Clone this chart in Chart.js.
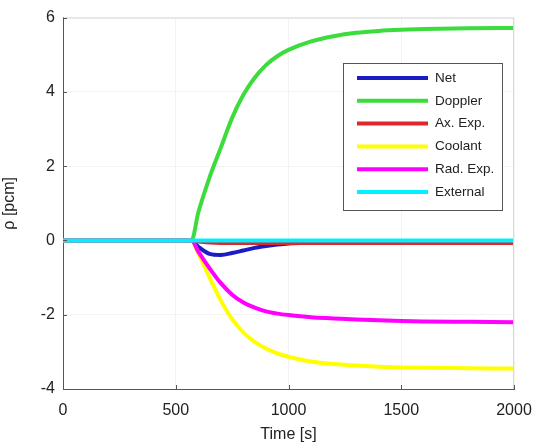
<!DOCTYPE html>
<html>
<head>
<meta charset="utf-8">
<script src="https://cdn.jsdelivr.net/npm/chart.js@4/dist/chart.umd.min.js"></script>
<style>
  html, body { margin: 0; padding: 0; background: #fff; }
  #wrap { width: 540px; height: 446px; }
</style>
</head>
<body>
<div id="wrap"><canvas id="rhoChart" width="540" height="446"></canvas></div>
<script>
// time samples [s] and reactivity [pcm]
const times    = [0, 500, 570, 600, 650, 700, 750, 800, 850, 900, 950, 1000, 1100, 1200, 1300, 1400, 1500, 1600, 1800, 2000];
const net      = [0, 0, 0, -0.17, -0.36, -0.39, -0.34, -0.27, -0.20, -0.15, -0.11, -0.08, -0.06, -0.05, -0.05, -0.05, -0.05, -0.05, -0.05, -0.05];
const doppler  = [0, 0, 0, 0.75, 1.70, 2.50, 3.30, 3.92, 4.38, 4.72, 4.96, 5.13, 5.36, 5.50, 5.59, 5.64, 5.67, 5.69, 5.71, 5.72];
const axExp    = [0, 0, 0, -0.04, -0.07, -0.08, -0.08, -0.08, -0.08, -0.08, -0.08, -0.08, -0.08, -0.08, -0.08, -0.08, -0.08, -0.08, -0.08, -0.08];
const coolant  = [0, 0, 0, -0.35, -1.00, -1.62, -2.12, -2.48, -2.73, -2.91, -3.04, -3.13, -3.26, -3.33, -3.37, -3.40, -3.42, -3.43, -3.44, -3.45];
const radExp   = [0, 0, 0, -0.30, -0.75, -1.15, -1.46, -1.67, -1.81, -1.91, -1.97, -2.01, -2.07, -2.10, -2.13, -2.15, -2.17, -2.18, -2.19, -2.20];
const external = [0, 0, 0, 0, 0, 0, 0, 0, 0, 0, 0, 0, 0, 0, 0, 0, 0, 0, 0, 0];

const seriesNames  = ['Net', 'Doppler', 'Ax. Exp.', 'Coolant', 'Rad. Exp.', 'External'];
const seriesValues = [net, doppler, axExp, coolant, radExp, external];
const seriesColors = ['#1c1cc4', '#3ddc3d', '#e0282c', '#ffff00', '#ff00ff', '#00f0ff'];
const xTicks = [0, 500, 1000, 1500, 2000];
const yTicks = [-4, -2, 0, 2, 4, 6];

const FONT = '"Liberation Sans", Arial, sans-serif';

const datasets = seriesNames.map((name, i) => ({
  label: name,
  data: times.map((t, j) => ({ x: t, y: seriesValues[i][j] })),
  borderColor: seriesColors[i],
  backgroundColor: seriesColors[i],
  borderWidth: i === 2 ? 3 : 4,
  pointRadius: 0,
  cubicInterpolationMode: 'monotone',
  order: seriesNames.length - i   // later series drawn on top, like MATLAB
}));

// inward ticks, box edges and the framed legend inside the axes
const matlabBits = {
  id: 'matlabBits',
  afterDraw(chart) {
    const ctx = chart.ctx;
    const a = chart.chartArea;
    const xs = chart.scales.x, ys = chart.scales.y;
    ctx.save();
    ctx.strokeStyle = '#d8d8d8';
    ctx.lineWidth = 1;
    ctx.beginPath();
    ctx.moveTo(a.left, a.top + 0.5); ctx.lineTo(a.right, a.top + 0.5);
    ctx.moveTo(a.right - 0.5, a.top); ctx.lineTo(a.right - 0.5, a.bottom);
    ctx.stroke();
    ctx.strokeStyle = '#555';
    ctx.beginPath();
    xTicks.forEach(v => {
      const px = Math.round(xs.getPixelForValue(v)) + 0.5;
      ctx.moveTo(px, a.bottom); ctx.lineTo(px, a.bottom - 4);
    });
    yTicks.forEach(v => {
      const py = Math.round(ys.getPixelForValue(v)) + 0.5;
      ctx.moveTo(a.left, py); ctx.lineTo(a.left + 4, py);
    });
    ctx.stroke();

    // legend box
    const bx = 343, by = 63, bw = 159, bh = 147;
    ctx.fillStyle = '#fff';
    ctx.fillRect(bx, by, bw, bh);
    ctx.strokeStyle = '#555';
    ctx.strokeRect(bx + 0.5, by + 0.5, bw, bh);
    ctx.font = '13.5px ' + FONT;
    ctx.textBaseline = 'middle';
    ctx.textAlign = 'left';
    chart.data.datasets.forEach((ds, i) => {
      const y = by + 15 + i * 22.8;
      ctx.strokeStyle = ds.borderColor;
      ctx.lineWidth = 4;
      ctx.beginPath();
      ctx.moveTo(bx + 14, y); ctx.lineTo(bx + 85, y);
      ctx.stroke();
      ctx.fillStyle = '#222';
      ctx.fillText(ds.label, bx + 92, y);
    });
    ctx.restore();
  }
};

const ctx = document.getElementById('rhoChart').getContext('2d');
const rhoChart = new Chart(ctx, {
  type: 'line',
  data: { datasets: datasets },
  options: {
    responsive: false,
    animation: false,
    layout: { padding: { top: 15, right: 26, left: 0, bottom: 0 } },
    plugins: {
      legend: { display: false },
      tooltip: { enabled: false }
    },
    scales: {
      x: {
        type: 'linear',
        min: 0,
        max: 2000,
        afterBuildTicks: s => { s.ticks = xTicks.map(v => ({ value: v })); },
        afterFit: s => { s.height = 57; s.paddingRight = 0; },
        grid: { color: '#f3f3f3', drawTicks: false },
        border: { display: true, color: '#555', width: 1 },
        ticks: { padding: 12, color: '#222', font: { family: FONT, size: 16 }, maxRotation: 0, callback: v => String(v) },
        title: { display: true, text: 'Time [s]', color: '#222', padding: { top: 0, bottom: 2 }, font: { family: FONT, size: 16 } }
      },
      y: {
        min: -4,
        max: 6,
        afterBuildTicks: s => { s.ticks = yTicks.map(v => ({ value: v })); },
        afterFit: s => { s.width = 63; },
        grid: { color: '#f3f3f3', drawTicks: false },
        border: { display: true, color: '#555', width: 1 },
        ticks: { padding: 8, color: '#222', font: { family: FONT, size: 16 }, callback: v => String(v) },
        title: { display: true, text: 'ρ [pcm]', color: '#222', padding: { top: 0, bottom: 4 }, font: { family: FONT, size: 16 } }
      }
    }
  },
  plugins: [matlabBits]
});
</script>
</body>
</html>
